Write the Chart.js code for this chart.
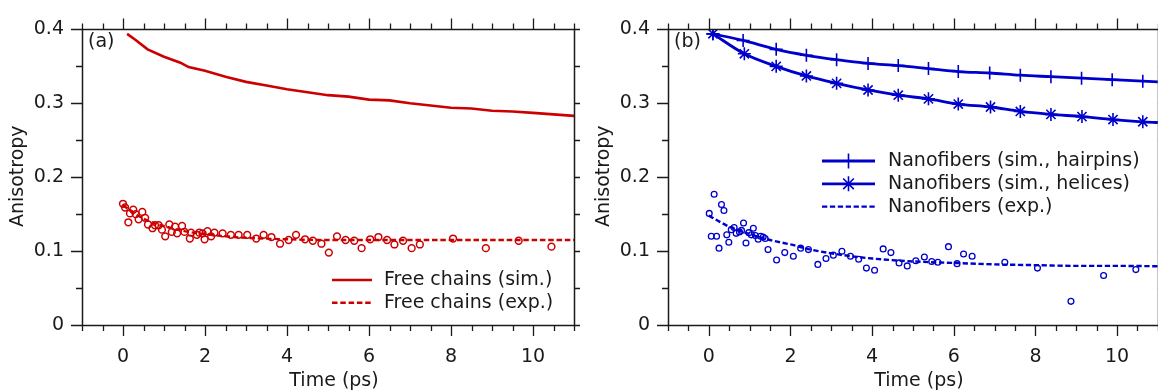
<!DOCTYPE html>
<html>
<head>
<meta charset="utf-8">
<title>Anisotropy decay</title>
<script src="https://cdn.jsdelivr.net/npm/chart.js@4/dist/chart.umd.min.js"></script>
<style>
  html, body { margin: 0; padding: 0; background: #fff; overflow: hidden; }
  #wrap { position: relative; width: 1158px; height: 390px; overflow: hidden; }
  #wrap canvas { position: absolute; top: 0; }
  #chartA { left: 0; }
  #chartB { left: 586px; }
</style>
</head>
<body>
<div id="wrap">
  <canvas id="chartA" width="580" height="390"></canvas>
  <canvas id="chartB" width="580" height="390"></canvas>
</div>
<script>
// ===== axis ticks =====
const xTickValues = [0, 2, 4, 6, 8, 10];
const xTickLabels = ['0', '2', '4', '6', '8', '10'];
const yTickValues = [0, 0.1, 0.2, 0.3, 0.4];
const yTickLabels = ['0', '0.1', '0.2', '0.3', '0.4'];

// ===== (a) free chains =====
const freeSimTime  = [0.1, 0.3, 0.6, 1.0, 1.4, 1.6, 2.0, 2.5, 3.0, 3.5, 4.0, 4.5, 5.0, 5.5, 6.0, 6.5, 7.0, 7.5, 8.0, 8.5, 9.0, 9.5, 10.0, 10.5, 11.0];
const freeSimAniso = [0.394, 0.386, 0.373, 0.363, 0.355, 0.349, 0.344, 0.336, 0.329, 0.324, 0.319, 0.315, 0.311, 0.309, 0.305, 0.304, 0.300, 0.297, 0.294, 0.293, 0.290, 0.289, 0.287, 0.285, 0.283];

const freeFitTime  = [0, 0.25, 0.5, 0.75, 1.0, 1.5, 2.0, 2.5, 3.0, 4.0, 5.0, 6.0, 7.0, 8.0, 9.0, 10.0, 11.0];
const freeFitAniso = [0.162, 0.152, 0.144, 0.138, 0.134, 0.127, 0.123, 0.120, 0.118, 0.116, 0.115, 0.115, 0.115, 0.115, 0.115, 0.115, 0.115];

const freeExpTime  = [0.00, 0.05, 0.13, 0.17, 0.25, 0.31, 0.38, 0.47, 0.54, 0.61, 0.72, 0.78, 0.87, 0.95, 1.03, 1.13, 1.19, 1.27, 1.32, 1.44,
                      1.50, 1.63, 1.66, 1.80, 1.86, 1.94, 1.99, 2.06, 2.15, 2.23, 2.43, 2.63, 2.82, 3.03, 3.25, 3.43, 3.62, 3.83, 4.04, 4.22,
                      4.44, 4.63, 4.84, 5.02, 5.22, 5.43, 5.64, 5.82, 6.03, 6.23, 6.44, 6.62, 6.83, 7.04, 7.24, 8.05, 8.85, 9.65, 10.45];
const freeExpAniso = [0.164, 0.159, 0.139, 0.151, 0.156, 0.150, 0.143, 0.153, 0.145, 0.136, 0.131, 0.135, 0.135, 0.129, 0.120, 0.136, 0.126, 0.133, 0.124, 0.134,
                      0.126, 0.117, 0.125, 0.122, 0.125, 0.124, 0.116, 0.127, 0.120, 0.125, 0.124, 0.122, 0.122, 0.122, 0.117, 0.122, 0.119, 0.110, 0.115, 0.122,
                      0.116, 0.114, 0.110, 0.098, 0.120, 0.115, 0.114, 0.104, 0.116, 0.119, 0.115, 0.109, 0.114, 0.104, 0.109, 0.117, 0.104, 0.114, 0.106];

// ===== (b) nanofibers =====
const hairpinTime  = [0.1, 0.84, 1.65, 2.39, 3.13, 3.9, 4.64, 5.38, 6.11, 6.88, 7.63, 8.38, 9.13, 9.88, 10.63, 11.0];
const hairpinAniso = [0.394, 0.385, 0.373, 0.365, 0.359, 0.354, 0.351, 0.347, 0.343, 0.341, 0.338, 0.336, 0.334, 0.332, 0.330, 0.329];

const helixTime  = [0.1, 0.87, 1.65, 2.39, 3.13, 3.9, 4.64, 5.38, 6.11, 6.9, 7.63, 8.38, 9.14, 9.9, 10.63, 11.0];
const helixAniso = [0.394, 0.367, 0.350, 0.337, 0.327, 0.318, 0.311, 0.306, 0.299, 0.295, 0.289, 0.285, 0.282, 0.278, 0.275, 0.274];

const nanoFitTime  = [0, 0.5, 1.0, 1.5, 2.0, 2.5, 3.0, 3.5, 4.0, 5.0, 6.0, 7.0, 8.0, 9.0, 10.0, 11.0];
const nanoFitAniso = [0.148, 0.133, 0.123, 0.115, 0.109, 0.102, 0.097, 0.093, 0.090, 0.086, 0.084, 0.082, 0.081, 0.080, 0.080, 0.0795];

const nanoExpTime  = [0.01, 0.06, 0.13, 0.19, 0.25, 0.31, 0.37, 0.44, 0.49, 0.55, 0.62, 0.67, 0.75, 0.80, 0.85, 0.91, 0.98, 1.04, 1.09, 1.14,
                      1.21, 1.27, 1.33, 1.38, 1.45, 1.66, 1.86, 2.07, 2.25, 2.44, 2.67, 2.87, 3.05, 3.26, 3.47, 3.67, 3.86, 4.06, 4.27, 4.46,
                      4.66, 4.86, 5.07, 5.28, 5.46, 5.61, 5.87, 6.08, 6.24, 6.45, 7.25, 8.05, 8.87, 9.67, 10.46];
const nanoExpAniso = [0.151, 0.120, 0.177, 0.120, 0.104, 0.163, 0.155, 0.122, 0.112, 0.129, 0.132, 0.124, 0.126, 0.128, 0.138, 0.111, 0.125, 0.122, 0.131, 0.121,
                      0.116, 0.120, 0.119, 0.117, 0.102, 0.088, 0.098, 0.093, 0.104, 0.102, 0.082, 0.090, 0.0945, 0.0997, 0.093, 0.089, 0.077, 0.074, 0.103, 0.098,
                      0.084, 0.080, 0.087, 0.092, 0.086, 0.085, 0.106, 0.083, 0.096, 0.093, 0.085, 0.077, 0.032, 0.067, 0.075];

// ===== styles =====
const RED = '#cc0000';
const BLUE = '#0000cc';
const INK = '#1a1a1a';
const FONT = "'DejaVu Sans', sans-serif";
const FONT_SIZE = 19;

Chart.defaults.font.family = FONT;
Chart.defaults.font.size = FONT_SIZE;
Chart.defaults.color = INK;

const toPoints = (xs, ys) => xs.map((x, i) => ({ x, y: ys[i] }));
const lastOff = (r) => (c) => (c.dataIndex === c.dataset.data.length - 1 ? 0 : r);

// frame on all four sides, ticks pointing outward
const frameTicks = {
  id: 'frameTicks',
  afterDraw(chart) {
    const { ctx, chartArea: a, scales: { x, y } } = chart;
    const MAJOR = 11, MINOR = 6;
    ctx.save();
    ctx.strokeStyle = INK;
    ctx.lineWidth = 1.3;
    ctx.beginPath();
    for (let i = 0; i <= (x.max - x.min) / 0.5; i++) {
      const v = x.min + i * 0.5;
      const px = Math.round(x.getPixelForValue(v)) + 0.5;
      const len = (Math.abs(v % 2) < 1e-6) ? MAJOR : MINOR;
      ctx.moveTo(px, a.bottom); ctx.lineTo(px, a.bottom + len);
      ctx.moveTo(px, a.top); ctx.lineTo(px, a.top - len);
    }
    for (let i = 0; i <= 8; i++) {
      const py = Math.round(y.getPixelForValue(i * 0.05)) + 0.5;
      const len = (i % 2 === 0) ? MAJOR : MINOR;
      ctx.moveTo(a.left, py); ctx.lineTo(a.left - len, py);
      ctx.moveTo(a.right, py); ctx.lineTo(a.right + len, py);
    }
    ctx.stroke();
    ctx.lineWidth = 1.5;
    ctx.strokeRect(Math.round(a.left) + 0.5, Math.round(a.top) + 0.5,
                   Math.round(a.right - a.left), Math.round(a.bottom - a.top));
    ctx.restore();
  }
};

// panel tag and axis titles
const panelText = {
  id: 'panelText',
  afterDraw(chart, args, opts) {
    const { ctx, chartArea: a } = chart;
    ctx.save();
    ctx.fillStyle = INK;
    ctx.font = `${FONT_SIZE}px ${FONT}`;
    ctx.textBaseline = 'middle';
    ctx.textAlign = 'left';
    ctx.fillText(opts.tag, a.left + 6, a.top + 13);

    ctx.textAlign = 'center';
    ctx.textBaseline = 'alphabetic';
    ctx.fillText(opts.xTitle, (a.left + a.right) / 2 + 6, 386);

    ctx.translate(23, (a.top + a.bottom) / 2 - 1);
    ctx.rotate(-Math.PI / 2);
    ctx.fillText(opts.yTitle, 0, 0);
    ctx.restore();
  }
};

// legend rows: line sample (with marker) + label
const lineLegend = {
  id: 'lineLegend',
  afterDraw(chart, args, opts) {
    if (!opts.items) return;
    const ctx = chart.ctx;
    ctx.save();
    ctx.font = `${FONT_SIZE}px ${FONT}`;
    opts.items.forEach((item, row) => {
      const ds = chart.data.datasets[item.dataset];
      const y = opts.y + row * opts.rowGap;
      ctx.strokeStyle = ds.borderColor;
      ctx.lineWidth = ds.borderWidth;
      ctx.setLineDash(ds.borderDash || []);
      ctx.beginPath();
      ctx.moveTo(opts.x, y);
      ctx.lineTo(opts.x + opts.sampleWidth, y);
      ctx.stroke();
      ctx.setLineDash([]);
      if (item.marker) {
        ctx.lineWidth = ds.pointBorderWidth;
        ctx.fillStyle = ds.borderColor;
        Chart.helpers.drawPoint(ctx, {
          pointStyle: ds.pointStyle, radius: opts.markerRadius,
          borderWidth: ds.pointBorderWidth, rotation: 0
        }, opts.x + opts.sampleWidth / 2, y);
      }
      ctx.fillStyle = INK;
      ctx.textBaseline = 'middle';
      ctx.textAlign = 'left';
      ctx.fillText(ds.label, opts.x + opts.sampleWidth + opts.textGap, y);
    });
    ctx.restore();
  }
};

function scaleOptions() {
  return {
    x: {
      type: 'linear', min: -1, max: 11,
      afterBuildTicks: s => { s.ticks = xTickValues.map(v => ({ value: v })); },
      afterFit: s => { s.height = 65; },
      grid: { display: false, drawTicks: false },
      border: { display: false },
      ticks: {
        callback: (v, i) => xTickLabels[i],
        padding: 21, maxRotation: 0, autoSkip: false, color: INK
      }
    },
    y: {
      type: 'linear', min: 0, max: 0.4,
      afterBuildTicks: s => { s.ticks = yTickValues.map(v => ({ value: v })); },
      afterFit: s => { s.width = 82; },
      grid: { display: false, drawTicks: false },
      border: { display: false },
      ticks: {
        callback: (v, i) => yTickLabels[i],
        padding: 18, autoSkip: false, color: INK
      }
    }
  };
}

function makePanel(canvasId, datasets, text, legend) {
  return new Chart(document.getElementById(canvasId), {
    type: 'line',
    data: { datasets },
    options: {
      responsive: false,
      animation: false,
      events: [],
      layout: { padding: { left: 0, right: 6, top: 22, bottom: 0 } },
      scales: scaleOptions(),
      plugins: {
        legend: { display: false },
        tooltip: { enabled: false },
        panelText: text,
        lineLegend: legend
      }
    },
    plugins: [frameTicks, panelText, lineLegend]
  });
}

// ===== (a) =====
makePanel('chartA', [
  {
    label: 'Free chains (sim.)',
    data: toPoints(freeSimTime, freeSimAniso),
    borderColor: RED, borderWidth: 2.6, pointRadius: 0, tension: 0
  },
  {
    label: 'Free chains (exp.)',
    data: toPoints(freeFitTime, freeFitAniso),
    borderColor: RED, borderWidth: 2.4, borderDash: [5.5, 2.8],
    pointRadius: 0, cubicInterpolationMode: 'monotone'
  },
  {
    label: 'Free chains (exp. data)',
    data: toPoints(freeExpTime, freeExpAniso),
    showLine: false, pointStyle: 'circle', pointRadius: 3.4,
    pointBorderWidth: 1.5, pointBorderColor: RED, pointBackgroundColor: 'rgba(0,0,0,0)'
  }
], { tag: '(a)', xTitle: 'Time (ps)', yTitle: 'Anisotropy' },
{ x: 332, y: 280, rowGap: 22.7, sampleWidth: 40, textGap: 12,
  items: [{ dataset: 0 }, { dataset: 1 }] });

// ===== (b) =====
makePanel('chartB', [
  {
    label: 'Nanofibers (sim., hairpins)',
    data: toPoints(hairpinTime, hairpinAniso),
    borderColor: BLUE, borderWidth: 2.8, cubicInterpolationMode: 'monotone',
    pointStyle: 'cross', pointRadius: lastOff(6.5), pointBorderWidth: 1.6,
    pointBorderColor: BLUE, pointBackgroundColor: BLUE
  },
  {
    label: 'Nanofibers (sim., helices)',
    data: toPoints(helixTime, helixAniso),
    borderColor: BLUE, borderWidth: 2.8, cubicInterpolationMode: 'monotone',
    pointStyle: 'star', pointRadius: lastOff(6.5), pointBorderWidth: 1.6,
    pointBorderColor: BLUE, pointBackgroundColor: BLUE
  },
  {
    label: 'Nanofibers (exp.)',
    data: toPoints(nanoFitTime, nanoFitAniso),
    borderColor: BLUE, borderWidth: 2.4, borderDash: [5.3, 2.6],
    pointRadius: 0, cubicInterpolationMode: 'monotone'
  },
  {
    label: 'Nanofibers (exp. data)',
    data: toPoints(nanoExpTime, nanoExpAniso),
    showLine: false, pointStyle: 'circle', pointRadius: 2.9,
    pointBorderWidth: 1.3, pointBorderColor: BLUE, pointBackgroundColor: 'rgba(0,0,0,0)'
  }
], { tag: '(b)', xTitle: 'Time (ps)', yTitle: 'Anisotropy' },
{ x: 236, y: 161, rowGap: 22.8, sampleWidth: 53, textGap: 13, markerRadius: 7.5,
  items: [{ dataset: 0, marker: true }, { dataset: 1, marker: true }, { dataset: 2 }] });
</script>
</body>
</html>
